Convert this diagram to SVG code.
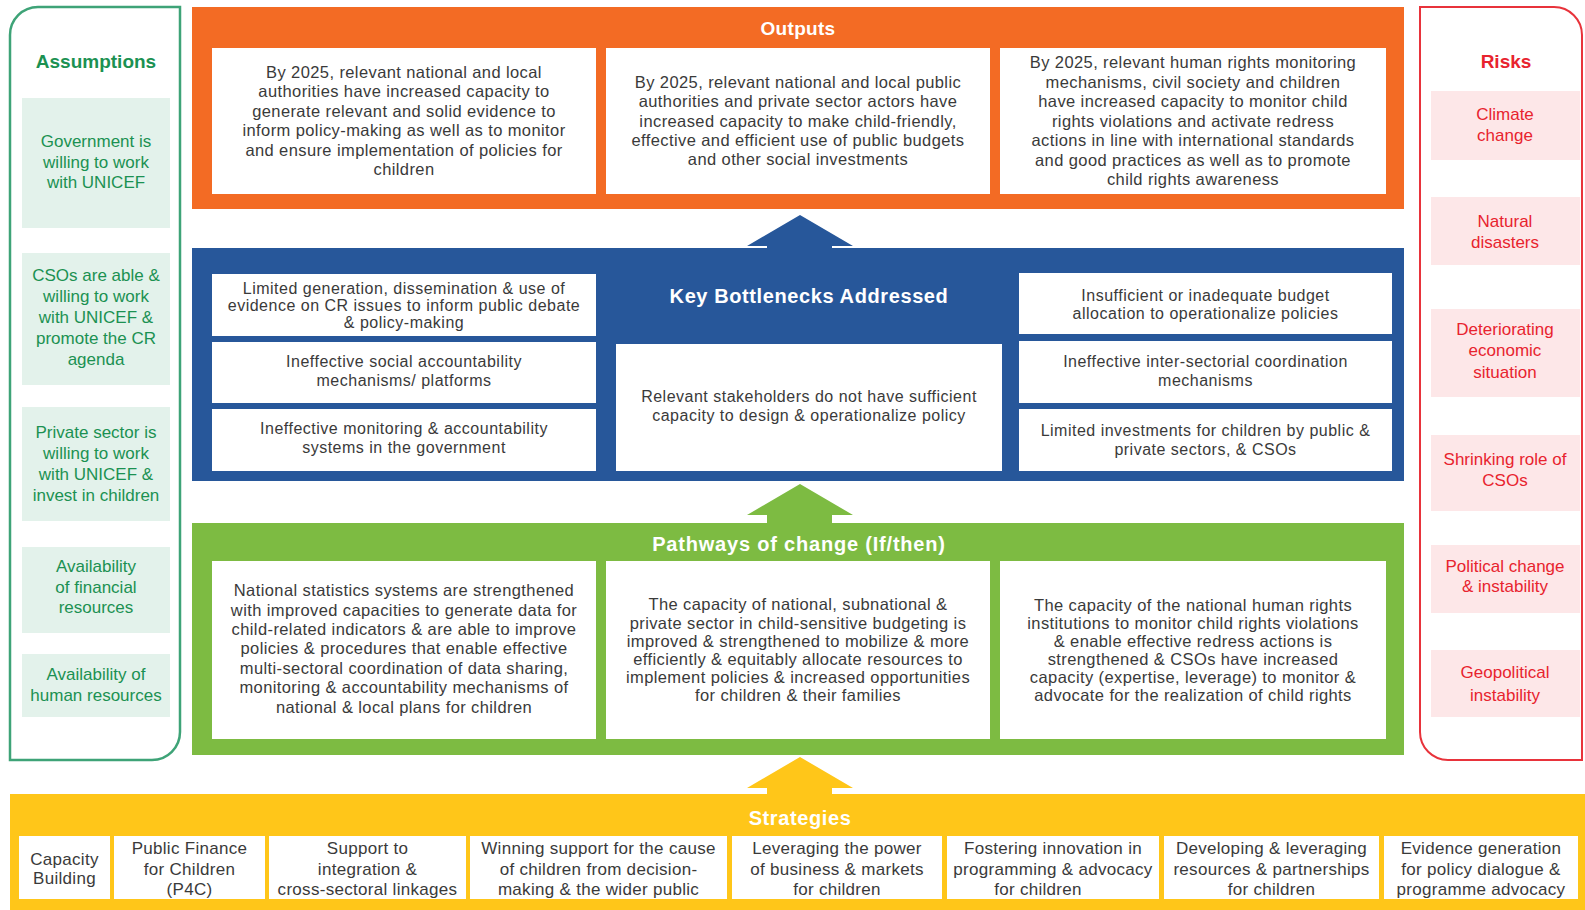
<svg xmlns="http://www.w3.org/2000/svg" width="1585" height="910" viewBox="0 0 1585 910">
<style>
text{font-family:"Liberation Sans",Arial,sans-serif;text-anchor:middle}
.body{font-size:16.5px;letter-spacing:0.4px;fill:#3a3a3a}
.bn{font-size:16px;letter-spacing:0.5px;fill:#3a3a3a}
.st{font-size:17px;letter-spacing:0.3px;fill:#3a3a3a}
.hd{font-size:20px;font-weight:bold;fill:#ffffff;letter-spacing:0.6px}
.as{font-size:17px;fill:#1b9152}
.ast{font-size:19px;font-weight:bold;fill:#1b9152}
.rk{font-size:17px;fill:#e8232e}
.rkt{font-size:19px;font-weight:bold;fill:#e8232e}
.wbox{fill:#ffffff}
.abox{fill:#e3f2eb}
.rbox{fill:#fde7e8}
</style>
<rect width="1585" height="910" fill="#ffffff"/>

<g id="assumptions">
<path d="M10,35 A28,28 0 0 1 38,7 H180 V732 A28,28 0 0 1 152,760 H10 Z" fill="#ffffff" stroke="#3ea377" stroke-width="2.5"/>
<text class="ast" x="96" y="68">Assumptions</text>
<rect class="abox" x="22" y="98" width="148" height="130"/>
<text class="as" x="96" y="147">Government is</text>
<text class="as" x="96" y="168">willing to work</text>
<text class="as" x="96" y="188">with UNICEF</text>
<rect class="abox" x="22" y="253" width="148" height="132"/>
<text class="as" x="96" y="281">CSOs are able &amp;</text>
<text class="as" x="96" y="302">willing to work</text>
<text class="as" x="96" y="323">with UNICEF &amp;</text>
<text class="as" x="96" y="344">promote the CR</text>
<text class="as" x="96" y="365">agenda</text>
<rect class="abox" x="22" y="407" width="148" height="114"/>
<text class="as" x="96" y="438">Private sector is</text>
<text class="as" x="96" y="459">willing to work</text>
<text class="as" x="96" y="480">with UNICEF &amp;</text>
<text class="as" x="96" y="501">invest in children</text>
<rect class="abox" x="22" y="547" width="148" height="86"/>
<text class="as" x="96" y="572">Availability</text>
<text class="as" x="96" y="593">of financial</text>
<text class="as" x="96" y="613">resources</text>
<rect class="abox" x="22" y="654" width="148" height="63"/>
<text class="as" x="96" y="680">Availability of</text>
<text class="as" x="96" y="701">human resources</text>
</g>

<g id="risks">
<path d="M1420,7 H1554 A28,28 0 0 1 1582,35 V760 H1448 A28,28 0 0 1 1420,732 Z" fill="#ffffff" stroke="#e8333b" stroke-width="2"/>
<text class="rkt" x="1506" y="68">Risks</text>
<rect class="rbox" x="1431" y="91" width="149" height="69"/>
<text class="rk" x="1505" y="120">Climate</text>
<text class="rk" x="1505" y="141">change</text>
<rect class="rbox" x="1431" y="197" width="149" height="68"/>
<text class="rk" x="1505" y="227">Natural</text>
<text class="rk" x="1505" y="248">disasters</text>
<rect class="rbox" x="1431" y="309" width="149" height="88"/>
<text class="rk" x="1505" y="335">Deteriorating</text>
<text class="rk" x="1505" y="356">economic</text>
<text class="rk" x="1505" y="378">situation</text>
<rect class="rbox" x="1431" y="435" width="149" height="76"/>
<text class="rk" x="1505" y="465">Shrinking role of</text>
<text class="rk" x="1505" y="486">CSOs</text>
<rect class="rbox" x="1431" y="545" width="149" height="68"/>
<text class="rk" x="1505" y="572">Political change</text>
<text class="rk" x="1505" y="592">&amp; instability</text>
<rect class="rbox" x="1431" y="650" width="149" height="67"/>
<text class="rk" x="1505" y="678">Geopolitical</text>
<text class="rk" x="1505" y="701">instability</text>
</g>

<g id="connectors">
<polygon points="767,248 767,246 747,246 800,215 853,246 832,246 832,248" fill="#27579a"/>
<polygon points="767,523 767,515 747,515 800,484 853,515 832,515 832,523" fill="#7dbb42"/>
<polygon points="767,794 767,788 747,788 800,757 853,788 832,788 832,794" fill="#ffc619"/>
</g>

<g id="outputs">
<rect x="192" y="7" width="1212" height="202" fill="#f36b24"/>
<text class="hd" x="798" y="35" style="font-size:19px;letter-spacing:0.3px">Outputs</text>
<rect class="wbox" x="212" y="48" width="384" height="146"/>
<text class="body" x="404" y="78">By 2025, relevant national and local</text>
<text class="body" x="404" y="97">authorities have increased capacity to</text>
<text class="body" x="404" y="117">generate relevant and solid evidence to</text>
<text class="body" x="404" y="136">inform policy-making as well as to monitor</text>
<text class="body" x="404" y="156">and ensure implementation of policies for</text>
<text class="body" x="404" y="175">children</text>
<rect class="wbox" x="606" y="48" width="384" height="146"/>
<text class="body" x="798" y="88">By 2025, relevant national and local public</text>
<text class="body" x="798" y="107">authorities and private sector actors have</text>
<text class="body" x="798" y="127">increased capacity to make child-friendly,</text>
<text class="body" x="798" y="146">effective and efficient use of public budgets</text>
<text class="body" x="798" y="165">and other social investments</text>
<rect class="wbox" x="1000" y="48" width="386" height="146"/>
<text class="body" x="1193" y="68">By 2025, relevant human rights monitoring</text>
<text class="body" x="1193" y="87.5">mechanisms, civil society and children</text>
<text class="body" x="1193" y="107">have increased capacity to monitor child</text>
<text class="body" x="1193" y="126.5">rights violations and activate redress</text>
<text class="body" x="1193" y="146">actions in line with international standards</text>
<text class="body" x="1193" y="165.5">and good practices as well as to promote</text>
<text class="body" x="1193" y="185">child rights awareness</text>
</g>

<g id="bottlenecks">
<rect x="192" y="248" width="1212" height="233" fill="#27579a"/>
<text class="hd" x="809" y="303">Key Bottlenecks Addressed</text>
<rect class="wbox" x="212" y="274" width="384" height="62"/>
<text class="bn" x="404" y="293.5">Limited generation, dissemination &amp; use of</text>
<text class="bn" x="404" y="310.5">evidence on CR issues to inform public debate</text>
<text class="bn" x="404" y="327.5">&amp; policy-making</text>
<rect class="wbox" x="212" y="342" width="384" height="61"/>
<text class="bn" x="404" y="367">Ineffective social accountability</text>
<text class="bn" x="404" y="386">mechanisms/ platforms</text>
<rect class="wbox" x="212" y="409" width="384" height="62"/>
<text class="bn" x="404" y="434">Ineffective monitoring &amp; accountability</text>
<text class="bn" x="404" y="453">systems in the government</text>
<rect class="wbox" x="616" y="344" width="386" height="127"/>
<text class="bn" x="809" y="401.5">Relevant stakeholders do not have sufficient</text>
<text class="bn" x="809" y="420.5">capacity to design &amp; operationalize policy</text>
<rect class="wbox" x="1019" y="273" width="373" height="61"/>
<text class="bn" x="1205.5" y="300.5">Insufficient or inadequate budget</text>
<text class="bn" x="1205.5" y="318.5">allocation to operationalize policies</text>
<rect class="wbox" x="1019" y="341" width="373" height="62"/>
<text class="bn" x="1205.5" y="366.5">Ineffective inter-sectorial coordination</text>
<text class="bn" x="1205.5" y="386">mechanisms</text>
<rect class="wbox" x="1019" y="409" width="373" height="62"/>
<text class="bn" x="1205.5" y="435.5">Limited investments for children by public &amp;</text>
<text class="bn" x="1205.5" y="454.5">private sectors, &amp; CSOs</text>
</g>

<g id="pathways">
<rect x="192" y="523" width="1212" height="232" fill="#7dbb42"/>
<text class="hd" x="799" y="551" style="letter-spacing:0.8px">Pathways of change (If/then)</text>
<rect class="wbox" x="212" y="561" width="384" height="178"/>
<text class="body" x="404" y="596">National statistics systems are strengthened</text>
<text class="body" x="404" y="616">with improved capacities to generate data for</text>
<text class="body" x="404" y="635">child-related indicators &amp; are able to improve</text>
<text class="body" x="404" y="654">policies &amp; procedures that enable effective</text>
<text class="body" x="404" y="674">multi-sectoral coordination of data sharing,</text>
<text class="body" x="404" y="693">monitoring &amp; accountability mechanisms of</text>
<text class="body" x="404" y="713">national &amp; local plans for children</text>
<rect class="wbox" x="606" y="561" width="384" height="178"/>
<text class="body" x="798" y="610">The capacity of national, subnational &amp;</text>
<text class="body" x="798" y="629">private sector in child-sensitive budgeting is</text>
<text class="body" x="798" y="647">improved &amp; strengthened to mobilize &amp; more</text>
<text class="body" x="798" y="665">efficiently &amp; equitably allocate resources to</text>
<text class="body" x="798" y="683">implement policies &amp; increased opportunities</text>
<text class="body" x="798" y="701">for children &amp; their families</text>
<rect class="wbox" x="1000" y="561" width="386" height="178"/>
<text class="body" x="1193" y="611">The capacity of the national human rights</text>
<text class="body" x="1193" y="629">institutions to monitor child rights violations</text>
<text class="body" x="1193" y="647">&amp; enable effective redress actions is</text>
<text class="body" x="1193" y="665">strengthened &amp; CSOs have increased</text>
<text class="body" x="1193" y="683">capacity (expertise, leverage) to monitor &amp;</text>
<text class="body" x="1193" y="701">advocate for the realization of child rights</text>
</g>

<g id="strategies">
<rect x="10" y="794" width="1575" height="116" fill="#ffc619"/>
<text class="hd" x="800" y="825">Strategies</text>
<rect class="wbox" x="19" y="836" width="91" height="63"/>
<text class="st" x="64.5" y="865">Capacity</text>
<text class="st" x="64.5" y="884">Building</text>
<rect class="wbox" x="114" y="836" width="151" height="63"/>
<text class="st" x="189.5" y="854">Public Finance</text>
<text class="st" x="189.5" y="875">for Children</text>
<text class="st" x="189.5" y="895">(P4C)</text>
<rect class="wbox" x="269" y="836" width="197" height="63"/>
<text class="st" x="367.5" y="854">Support to</text>
<text class="st" x="367.5" y="875">integration &amp;</text>
<text class="st" x="367.5" y="895">cross-sectoral linkages</text>
<rect class="wbox" x="470" y="836" width="257" height="63"/>
<text class="st" x="598.5" y="854">Winning support for the cause</text>
<text class="st" x="598.5" y="875">of children from decision-</text>
<text class="st" x="598.5" y="895">making &amp; the wider public</text>
<rect class="wbox" x="732" y="836" width="210" height="63"/>
<text class="st" x="837" y="854">Leveraging the power</text>
<text class="st" x="837" y="875">of business &amp; markets</text>
<text class="st" x="837" y="895">for children</text>
<rect class="wbox" x="947" y="836" width="212" height="63"/>
<text class="st" x="1053" y="854">Fostering innovation in</text>
<text class="st" x="1053" y="875">programming &amp; advocacy</text>
<text class="st" x="1038" y="895">for children</text>
<rect class="wbox" x="1164" y="836" width="215" height="63"/>
<text class="st" x="1271.5" y="854">Developing &amp; leveraging</text>
<text class="st" x="1271.5" y="875">resources &amp; partnerships</text>
<text class="st" x="1271.5" y="895">for children</text>
<rect class="wbox" x="1384" y="836" width="194" height="63"/>
<text class="st" x="1481" y="854">Evidence generation</text>
<text class="st" x="1481" y="875">for policy dialogue &amp;</text>
<text class="st" x="1481" y="895">programme advocacy</text>
</g>
</svg>
